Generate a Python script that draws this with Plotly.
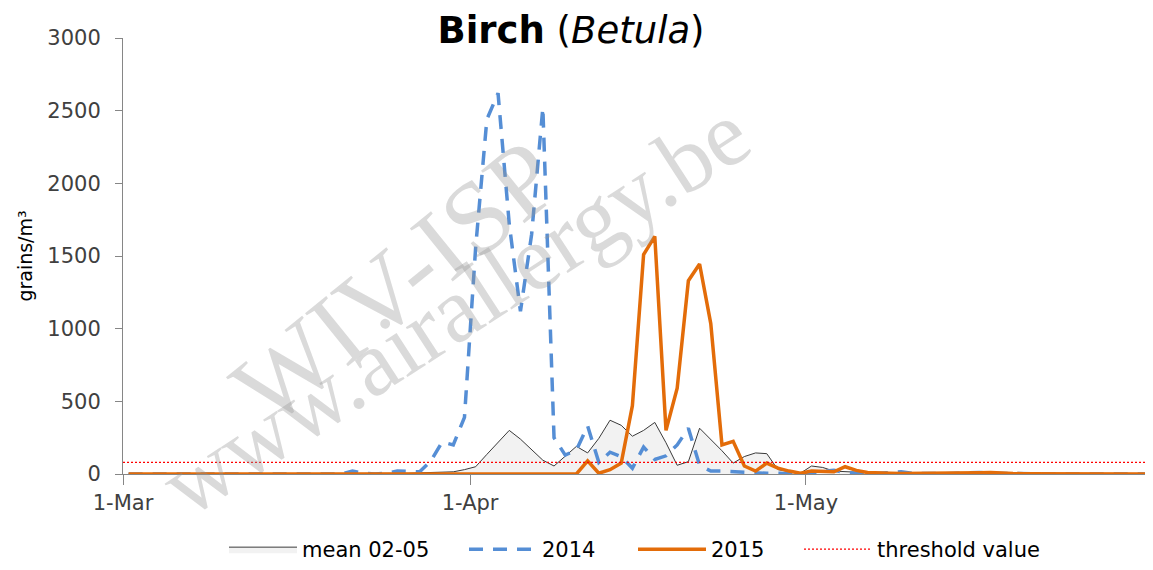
import pandas as pd
import plotly.graph_objects as go

# ---------------- data ----------------
dates = pd.date_range("2015-03-01 12:00", "2015-05-31 12:00", freq="D")

mean_02_05 = [
    0, 0, 0, 0, 0, 0, 0, 0, 0, 0,
    0, 0, 0, 0, 0, 0, 0, 0, 0, 0,
    0, 0, 0, 2, 3, 5, 8, 10,
    12, 15, 30, 50, 135, 215, 300, 240, 170, 95, 55, 120,
    190, 145, 245, 370, 335, 260, 300, 355, 215, 60,
    85, 315, 240, 160, 75, 120, 145, 140, 30, 15,
    5, 55, 45, 20, 15, 10, 5, 5, 3, 3,
    2, 2, 2, 1, 1, 1, 1, 0, 0, 0,
    0, 0, 0, 0, 0, 0, 0, 0, 0, 0, 0, 0,
]

pollen_2014 = [
    0, 0, 0, 0, 0, 0, 0, 0, 0, 0,
    0, 0, 0, 0, 0, 0, 0, 0, 0, 0,
    20, 5, 0, 5, 20, 20, 15, 90,
    220, 200, 390, 1560, 2440, 2620, 1720, 1120, 1650, 2520, 250, 130,
    165, 330, 80, 150, 120, 40, 185, 100, 125, 200,
    315, 60, 20, 20, 15, 15, 10, 5, 5, 0,
    0, 5, 20, 25, 10, 5, 3, 5, 10, 15,
    5, 3, 2, 2, 5, 8, 10, 5, 3, 2,
    0, 0, 0, 0, 0, 0, 0, 0, 0, 0, 0, 0,
]

pollen_2015 = [
    0, 0, 0, 0, 0, 0, 0, 0, 0, 0,
    0, 0, 0, 0, 0, 0, 0, 0, 0, 0,
    0, 0, 0, 0, 0, 0, 0, 0, 0, 0,
    0, 0, 0, 0, 0, 0, 0, 0, 0, 0,
    0, 90, 5, 30, 75, 470, 1510, 1635, 300, 590,
    1330, 1445, 1035, 200, 225, 55, 20, 75, 40, 20,
    5, 20, 20, 15, 50, 25, 10, 5, 5, 3,
    3, 2, 2, 3, 5, 5, 8, 10, 5, 3,
    2, 2, 1, 1, 0, 0, 0, 0, 0, 0, 0, 0,
]

threshold_value = 80
threshold_span = ["2015-03-01", "2015-06-01"]

x_range = ["2015-03-01", "2015-06-01"]
x_tick_dates = ["2015-03-01", "2015-04-01", "2015-05-01"]
x_tick_labels = ["1-Mar", "1-Apr", "1-May"]
y_ticks = [0, 500, 1000, 1500, 2000, 2500, 3000]

series_names = ["mean 02-05", "2014", "2015", "threshold value"]

# ---------------- figure ----------------
FONT = "DejaVu Sans"
OFF = 8                      # page body margin
W, H = 1153 - OFF, 570 - OFF
L, R, T = 123 - OFF, 0, 38 - OFF
B = H - (476 - OFF)
PW, PH = W - L - R, H - T - B

def px_x(sx):   # screen x -> paper x
    return (sx - OFF - L) / PW

def px_y(sy):   # screen y -> paper y
    return (H - B - (sy - OFF)) / PH

fig = go.Figure()

fig.add_trace(go.Scatter(
    x=dates, y=mean_02_05, name=series_names[0], mode="lines",
    line=dict(color="#3a3a3a", width=1), fill="tozeroy", fillcolor="#F2F2F2",
    legend="legend",
))
fig.add_trace(go.Scatter(
    x=dates, y=pollen_2014, name=series_names[1], mode="lines",
    line=dict(color="#558ED5", width=3.5, dash="14px,10px"),
    legend="legend2",
))
fig.add_trace(go.Scatter(
    x=dates, y=pollen_2015, name=series_names[2], mode="lines",
    line=dict(color="#E36C09", width=3.5),
    legend="legend3",
))
fig.add_trace(go.Scatter(
    x=threshold_span, y=[threshold_value] * len(threshold_span),
    name=series_names[3], mode="lines",
    line=dict(color="#FF0000", width=1.4, dash="2px,2px"),
    legend="legend4",
))

# watermark
wm_color = "rgba(150,150,150,0.35)"
fig.add_annotation(text="WIV-ISP", xref="paper", yref="paper",
                   x=px_x(395), y=px_y(284), xanchor="center", yanchor="middle",
                   showarrow=False, textangle=-39,
                   font=dict(family="Liberation Serif", size=104, color=wm_color))
fig.add_annotation(text="www.airallergy.be", xref="paper", yref="paper",
                   x=px_x(455), y=px_y(310), xanchor="center", yanchor="middle",
                   showarrow=False, textangle=-33,
                   font=dict(family="Liberation Serif", size=93, color=wm_color))

legend_common = dict(orientation="h", yanchor="middle", y=px_y(552),
                     xanchor="left", font=dict(family=FONT, size=21, color="#000000"),
                     bgcolor="rgba(0,0,0,0)", tracegroupgap=0, itemwidth=68)

fig.update_layout(
    width=W, height=H,
    margin=dict(l=L, r=R, t=T, b=B),
    paper_bgcolor="white", plot_bgcolor="white",
    font=dict(family=FONT, color="#404040"),
    title=dict(text="<b>Birch</b> (<i>Betula</i>)", x=(571 - OFF) / W, xref="container", xanchor="center",
               y=1 - (30 - OFF) / H, yref="container", yanchor="middle",
               font=dict(family=FONT, size=37, color="#000000")),
    showlegend=True,
    legend=dict(x=px_x(224), **legend_common),
    legend2=dict(x=px_x(464), **legend_common),
    legend3=dict(x=px_x(633), **legend_common),
    legend4=dict(x=px_x(799), **legend_common),
    xaxis=dict(
        type="date", range=x_range, tickvals=x_tick_dates, ticktext=x_tick_labels,
        showgrid=False, zeroline=False, showline=True, linecolor="#868686", linewidth=1,
        ticks="outside", ticklen=10, tickcolor="#868686", tickwidth=1,
        tickfont=dict(family=FONT, size=21, color="#404040"),
        layer="below traces",
    ),
    yaxis=dict(
        range=[0, 3000], tickvals=y_ticks, showgrid=False, zeroline=False,
        showline=True, linecolor="#868686", linewidth=1,
        ticks="outside", ticklen=7, tickcolor="#868686", tickwidth=1,
        tickfont=dict(family=FONT, size=21, color="#404040"),
        ticklabelstandoff=10,
        title=dict(text="grains/m³", font=dict(family=FONT, size=19, color="#000000"), standoff=9),
        layer="below traces",
    ),
)

fig.write_html("out.html")
